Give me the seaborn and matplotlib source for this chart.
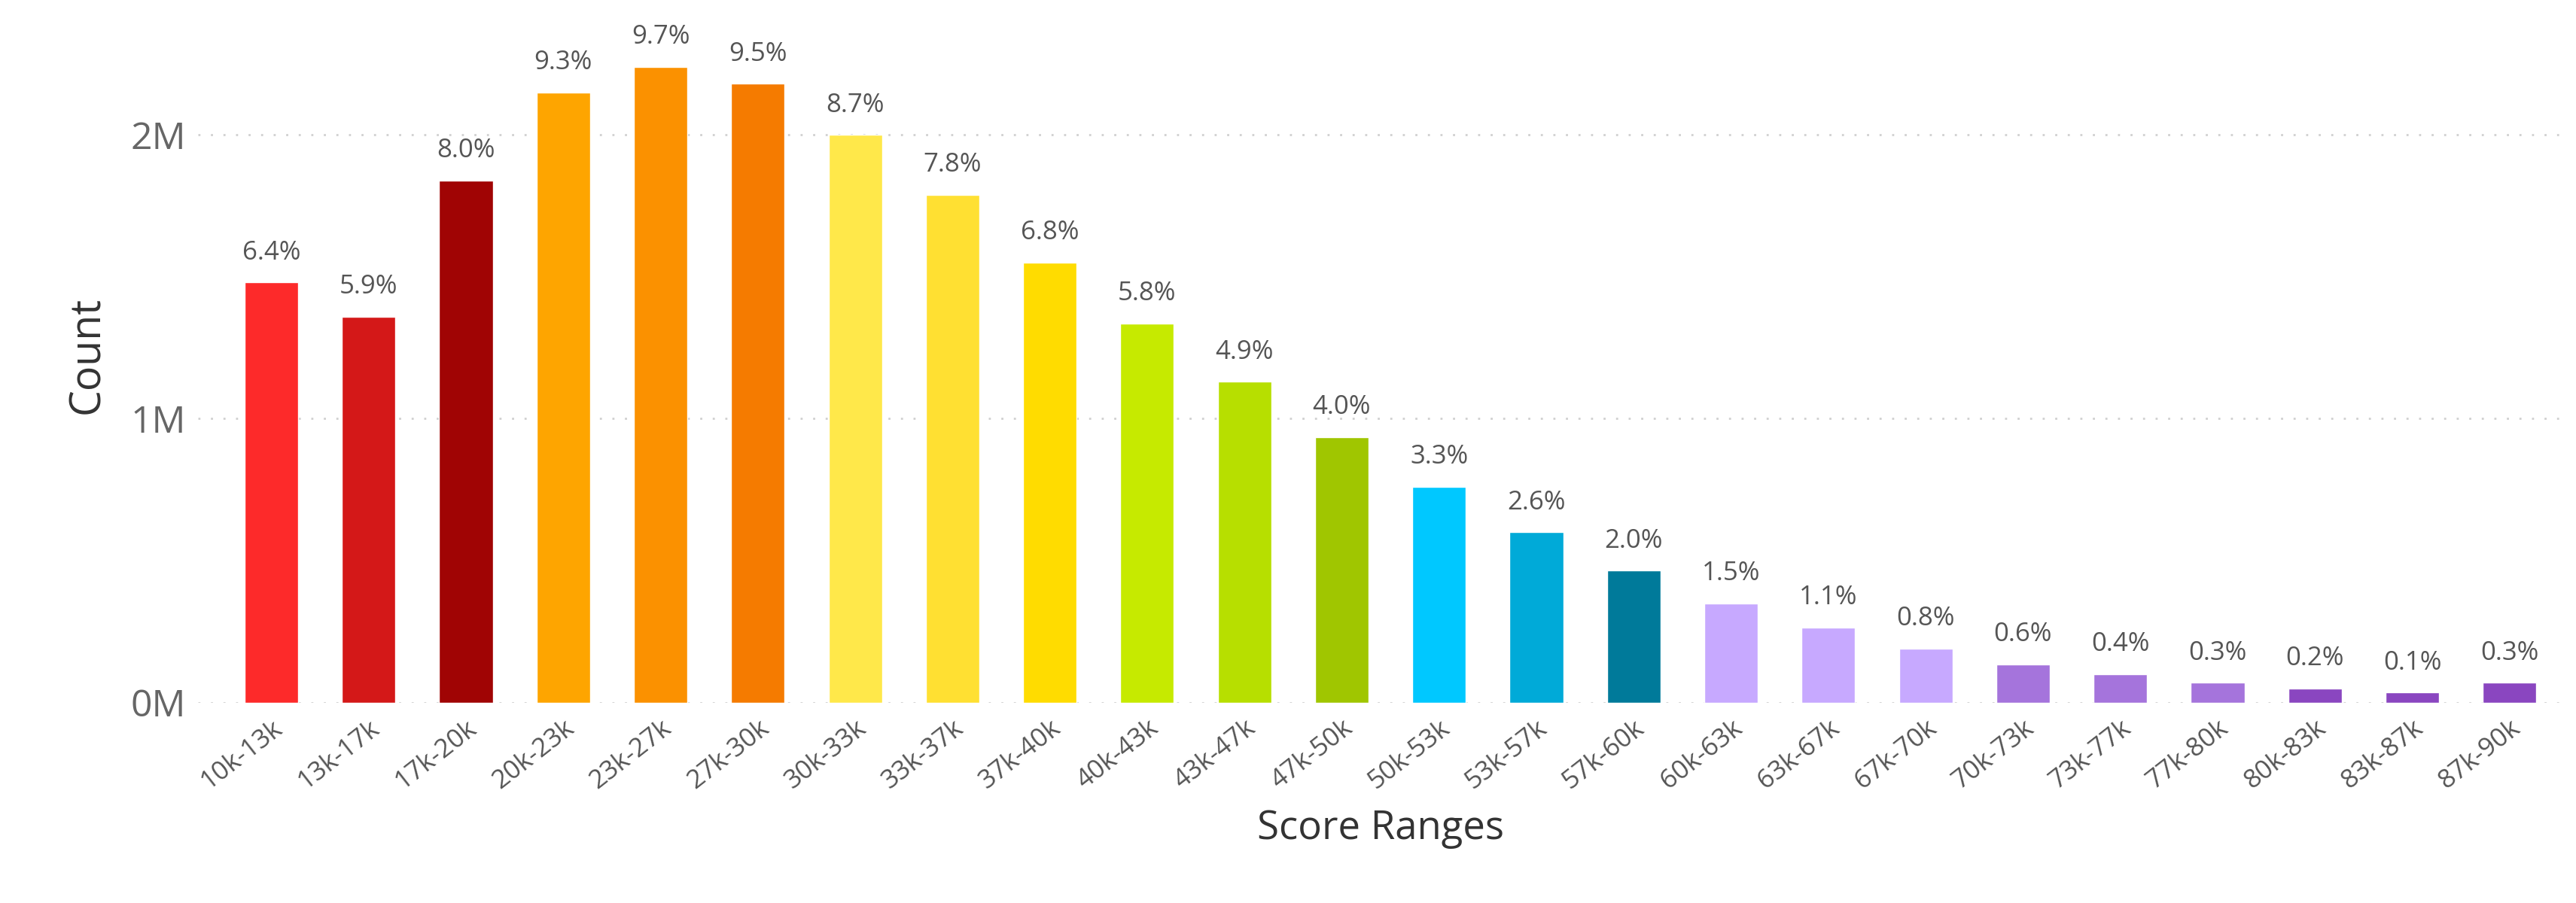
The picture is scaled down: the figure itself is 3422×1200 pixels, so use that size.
import matplotlib
matplotlib.use("Agg")
import matplotlib.pyplot as plt
import seaborn as sns
import pandas as pd

# Data
ranges = ["10k-13k", "13k-17k", "17k-20k", "20k-23k", "23k-27k", "27k-30k",
          "30k-33k", "33k-37k", "37k-40k", "40k-43k", "43k-47k", "47k-50k",
          "50k-53k", "53k-57k", "57k-60k", "60k-63k", "63k-67k", "67k-70k",
          "70k-73k", "73k-77k", "77k-80k", "80k-83k", "83k-87k", "87k-90k"]
counts = [1.48e6, 1.36e6, 1.84e6, 2.15e6, 2.24e6, 2.18e6, 2.00e6, 1.79e6,
          1.55e6, 1.335e6, 1.13e6, 0.935e6, 0.76e6, 0.60e6, 0.465e6, 0.35e6,
          0.265e6, 0.19e6, 0.135e6, 0.10e6, 0.07e6, 0.05e6, 0.035e6, 0.07e6]
pct_labels = ["6.4%", "5.9%", "8.0%", "9.3%", "9.7%", "9.5%", "8.7%", "7.8%",
              "6.8%", "5.8%", "4.9%", "4.0%", "3.3%", "2.6%", "2.0%", "1.5%",
              "1.1%", "0.8%", "0.6%", "0.4%", "0.3%", "0.2%", "0.1%", "0.3%"]
colors = ["#fd2a2a", "#d41818", "#a00404", "#fea500", "#fb9100", "#f57b00",
          "#ffe84a", "#ffe032", "#ffdc00", "#c6ea00", "#b7df00", "#a0c600",
          "#00c8ff", "#00aad8", "#007a9a", "#c7a9ff", "#c7a9ff", "#c7a9ff",
          "#a574dc", "#a574dc", "#a574dc", "#8a46c0", "#8a46c0", "#8a46c0"]

df = pd.DataFrame({"range": ranges, "count": counts})

sns.set_style("white")
plt.rcParams["font.family"] = ["Open Sans", "DejaVu Sans"]

fig = plt.figure(figsize=(34.22, 12), dpi=100)
ax = fig.add_axes([0.077, 0.222, 0.918, 0.77])
sns.barplot(data=df, x="range", y="count", hue="range", palette=colors,
            legend=False, width=0.55, saturation=1, ax=ax)

for i, (c, lab) in enumerate(zip(counts, pct_labels)):
    ax.text(i, c + 0.06e6, lab, ha="center", va="bottom", fontsize=25, color="#555555")

ax.set_ylim(0, 2.45e6)
ax.set_xlim(-0.75, len(ranges) - 0.45)
ax.set_yticks([0, 1e6, 2e6])
ax.set_yticklabels(["0M", "1M", "2M"], fontsize=36, color="#666666")
ax.set_xticks(range(len(ranges)))
ax.set_xticklabels(ranges, rotation=38, ha="right", rotation_mode="anchor",
                   fontsize=25, color="#555555")
ax.tick_params(axis="both", length=0, pad=12)
for y in [0, 1e6, 2e6]:
    ax.axhline(y, color="#d0d0d0", linestyle=(0, (1, 5)), linewidth=2, zorder=0)
sns.despine(ax=ax, left=True, bottom=True)
ax.set_xlabel("Score Ranges", fontsize=38, color="#333333", labelpad=14)
ax.set_ylabel("Count", fontsize=40, color="#333333", labelpad=20)

fig.savefig("out.png", dpi=100)
